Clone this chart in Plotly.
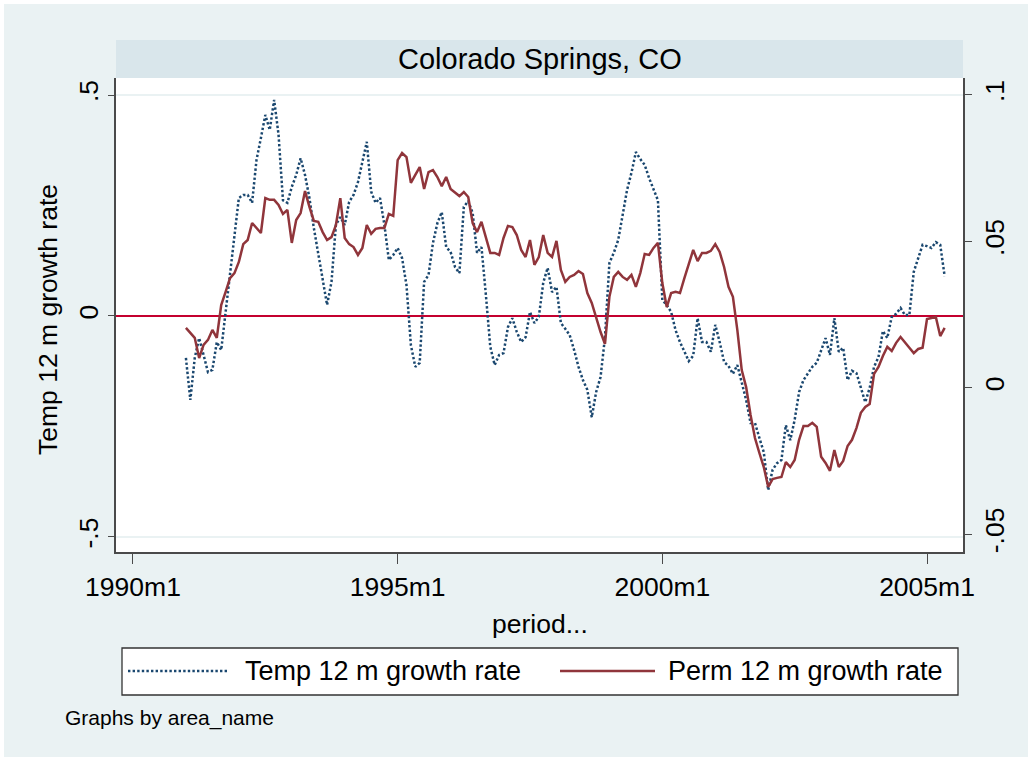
import plotly.graph_objects as go

# Temporary-component 12 month growth rate (left axis), monthly 1991m1..2005m5
temp = [
    -0.095, -0.190, -0.095, -0.050, -0.088, -0.127, -0.122, -0.059, -0.077, 0.009, 0.081, 0.167,
    0.267, 0.274, 0.274, 0.256, 0.353, 0.403, 0.455, 0.421, 0.489, 0.410, 0.262, 0.256,
    0.292, 0.319, 0.357, 0.319, 0.267, 0.199, 0.138, 0.086, 0.025, 0.077, 0.206, 0.224,
    0.206, 0.258, 0.274, 0.303, 0.348, 0.394, 0.281, 0.256, 0.267, 0.206, 0.127, 0.138,
    0.154, 0.131, 0.070, -0.066, -0.115, -0.106, 0.077, 0.093, 0.165, 0.210, 0.235, 0.156,
    0.145, 0.111, 0.097, 0.247, 0.260, 0.233, 0.143, 0.156, 0.048, -0.070, -0.111, -0.088,
    -0.084, -0.025, -0.005, -0.036, -0.059, -0.048, 0.009, -0.016, -0.002, 0.075, 0.109, 0.054,
    0.066, -0.016, -0.029, -0.043, -0.077, -0.115, -0.145, -0.167, -0.229, -0.172, -0.138, -0.048,
    0.120, 0.143, 0.172, 0.229, 0.285, 0.324, 0.371, 0.355, 0.342, 0.312, 0.287, 0.262,
    0.036, 0.025, 0.009, -0.032, -0.059, -0.081, -0.102, -0.090, -0.005, -0.059, -0.059, -0.081,
    -0.020, -0.059, -0.104, -0.113, -0.131, -0.111, -0.149, -0.190, -0.242, -0.242, -0.276, -0.308,
    -0.394, -0.348, -0.333, -0.326, -0.247, -0.281, -0.235, -0.172, -0.145, -0.129, -0.115, -0.106,
    -0.077, -0.050, -0.088, -0.005, -0.081, -0.072, -0.145, -0.124, -0.129, -0.161, -0.195, -0.163,
    -0.115, -0.093, -0.034, -0.050, -0.002, 0.005, 0.018, 0.002, 0.002, 0.100, 0.131, 0.161,
    0.158, 0.154, 0.167, 0.161, 0.090,
]

# Permanent-component 12 month growth rate (right axis)
perm = [
    0.0205, 0.0188, 0.0171, 0.0102, 0.0147, 0.0164, 0.0198, 0.0171, 0.0283, 0.0328, 0.0375, 0.0392,
    0.0430, 0.0491, 0.0505, 0.0563, 0.0546, 0.0529, 0.0648, 0.0642, 0.0642, 0.0625, 0.0594, 0.0608,
    0.0495, 0.0573, 0.0597, 0.0672, 0.0618, 0.0570, 0.0567, 0.0532, 0.0505, 0.0515, 0.0556, 0.0648,
    0.0512, 0.0491, 0.0481, 0.0454, 0.0478, 0.0556, 0.0526, 0.0543, 0.0546, 0.0546, 0.0594, 0.0587,
    0.0778, 0.0802, 0.0788, 0.0700, 0.0727, 0.0754, 0.0679, 0.0737, 0.0744, 0.0720, 0.0689, 0.0720,
    0.0679, 0.0666, 0.0655, 0.0669, 0.0652, 0.0563, 0.0532, 0.0567, 0.0512, 0.0461, 0.0461, 0.0454,
    0.0512, 0.0553, 0.0549, 0.0522, 0.0471, 0.0447, 0.0505, 0.0420, 0.0447, 0.0522, 0.0461, 0.0447,
    0.0502, 0.0403, 0.0362, 0.0379, 0.0386, 0.0399, 0.0389, 0.0324, 0.0290, 0.0239, 0.0191, 0.0150,
    0.0311, 0.0379, 0.0396, 0.0379, 0.0369, 0.0386, 0.0345, 0.0392, 0.0457, 0.0454, 0.0478, 0.0495,
    0.0358, 0.0276, 0.0324, 0.0328, 0.0324, 0.0375, 0.0427, 0.0471, 0.0433, 0.0461, 0.0461, 0.0468,
    0.0491, 0.0464, 0.0413, 0.0345, 0.0311, 0.0198, 0.0061, 0.0003, -0.0092, -0.0171, -0.0222, -0.0270,
    -0.0338, -0.0311, -0.0307, -0.0304, -0.0253, -0.0270, -0.0246, -0.0177, -0.0130, -0.0130, -0.0119, -0.0133,
    -0.0235, -0.0256, -0.0283, -0.0212, -0.0270, -0.0249, -0.0198, -0.0177, -0.0137, -0.0085, -0.0065, -0.0055,
    0.0048, 0.0072, 0.0109, 0.0140, 0.0126, 0.0154, 0.0174, 0.0154, 0.0137, 0.0119, 0.0133, 0.0137,
    0.0235, 0.0239, 0.0242, 0.0177, 0.0205,
]

# Stata %tm monthly index: 1960m1 = 0, so 1991m1 = 372
first_month = 372
months = list(range(first_month, first_month + len(temp)))

x_tickvals = [360, 420, 480, 540]
x_ticktext = ["1990m1", "1995m1", "2000m1", "2005m1"]
yl_tickvals = [-0.5, 0, 0.5]
yl_ticktext = ["-.5", "0", ".5"]
yr_tickvals = [-0.05, 0, 0.05, 0.1]
yr_ticktext = ["-.05", "0", ".05", ".1"]

title_text = "Colorado Springs, CO"
temp_label = "Temp 12 m growth rate"
perm_label = "Perm 12 m growth rate"
x_title = "period..."
note_text = "Graphs by area_name"

FONT = "Liberation Sans, Arial, sans-serif"
NAVY = "#1A476F"
MAROON = "#90353B"
BG = "#EAF2F3"
STRIP = "#D9E6EB"
AX = "#4a4a4a"
DOT = "2.4px,2.2px"

fig = go.Figure()
fig.add_trace(go.Scatter(x=months, y=temp, mode="lines", yaxis="y",
                         line=dict(color=NAVY, width=2.5, dash=DOT),
                         showlegend=False, name=temp_label))
fig.add_trace(go.Scatter(x=months, y=perm, mode="lines", yaxis="y2",
                         line=dict(color=MAROON, width=2.5),
                         showlegend=False, name=perm_label))

fig.update_layout(
    width=1033, height=759, autosize=False,
    margin=dict(l=116, r=70, t=78, b=207, pad=0),
    paper_bgcolor="white", plot_bgcolor="white",
    font=dict(family=FONT, color="black", size=26.5),
    xaxis=dict(range=[356.15, 548.16], tickvals=x_tickvals, ticktext=x_ticktext,
               ticks="outside", ticklen=10, tickwidth=1.3, tickcolor=AX,
               showline=True, linecolor=AX, linewidth=1.5, showgrid=False,
               zeroline=False, tickfont=dict(size=26.5)),
    yaxis=dict(range=[-0.534, 0.5385], tickvals=yl_tickvals, ticktext=yl_ticktext,
               tickangle=-90, ticks="outside", ticklen=6, tickwidth=1.3, tickcolor=AX,
               showline=True, linecolor=AX, linewidth=1.5,
               showgrid=True, gridcolor=BG, gridwidth=2,
               zeroline=True, zerolinecolor="#C4002F", zerolinewidth=2,
               tickfont=dict(size=26.5)),
    yaxis2=dict(range=[-0.056, 0.1058], tickvals=yr_tickvals, ticktext=yr_ticktext,
                overlaying="y", side="right", tickangle=-90,
                ticks="outside", ticklen=7, tickwidth=1.3, tickcolor=AX,
                showline=True, linecolor=AX, linewidth=1.5,
                showgrid=False, zeroline=False, tickfont=dict(size=26.5)),
)

def px_x(p):
    return (p - 116) / 847.0

def px_y(p):
    return (552 - p) / 474.0

shapes = [
    # outer graph region
    dict(type="rect", xref="paper", yref="paper", layer="below",
         x0=px_x(4), x1=px_x(1028), y0=px_y(757), y1=px_y(4),
         fillcolor=BG, line=dict(width=0)),
    # plot region
    dict(type="rect", xref="paper", yref="paper", layer="below",
         x0=0, x1=1, y0=0, y1=1, fillcolor="white", line=dict(width=0)),
    # title strip
    dict(type="rect", xref="paper", yref="paper", layer="below",
         x0=0, x1=1, y0=1, y1=px_y(40), fillcolor=STRIP, line=dict(width=0)),
    # legend box
    dict(type="rect", xref="paper", yref="paper",
         x0=px_x(122), x1=px_x(958), y0=px_y(695), y1=px_y(648),
         fillcolor="white", line=dict(color="#333333", width=1.3)),
    # legend keys
    dict(type="line", xref="paper", yref="paper",
         x0=px_x(128), x1=px_x(228), y0=px_y(671), y1=px_y(671),
         line=dict(color=NAVY, width=2.5, dash=DOT)),
    dict(type="line", xref="paper", yref="paper",
         x0=px_x(560), x1=px_x(655), y0=px_y(671), y1=px_y(671),
         line=dict(color=MAROON, width=2.5)),
]

annotations = [
    dict(text=title_text, xref="paper", yref="paper", x=0.5, y=px_y(59),
         xanchor="center", yanchor="middle", showarrow=False, font=dict(size=29)),
    dict(text=temp_label, xref="paper", yref="paper", x=px_x(48), y=px_y(320),
         xanchor="center", yanchor="middle", textangle=-90, showarrow=False,
         font=dict(size=26.5)),
    dict(text=x_title, xref="paper", yref="paper", x=0.5, y=px_y(624),
         xanchor="center", yanchor="middle", showarrow=False, font=dict(size=26.5)),
    dict(text=temp_label, xref="paper", yref="paper", x=px_x(243), y=px_y(671),
         xanchor="left", yanchor="middle", showarrow=False, font=dict(size=27)),
    dict(text=perm_label, xref="paper", yref="paper", x=px_x(666), y=px_y(671),
         xanchor="left", yanchor="middle", showarrow=False, font=dict(size=27)),
    dict(text=note_text, xref="paper", yref="paper", x=px_x(63), y=px_y(718),
         xanchor="left", yanchor="middle", showarrow=False, font=dict(size=21)),
]

fig.update_layout(shapes=shapes, annotations=annotations)
fig.write_html("out.html", config={"displayModeBar": False},
               post_script="document.body.style.margin='0px';")
